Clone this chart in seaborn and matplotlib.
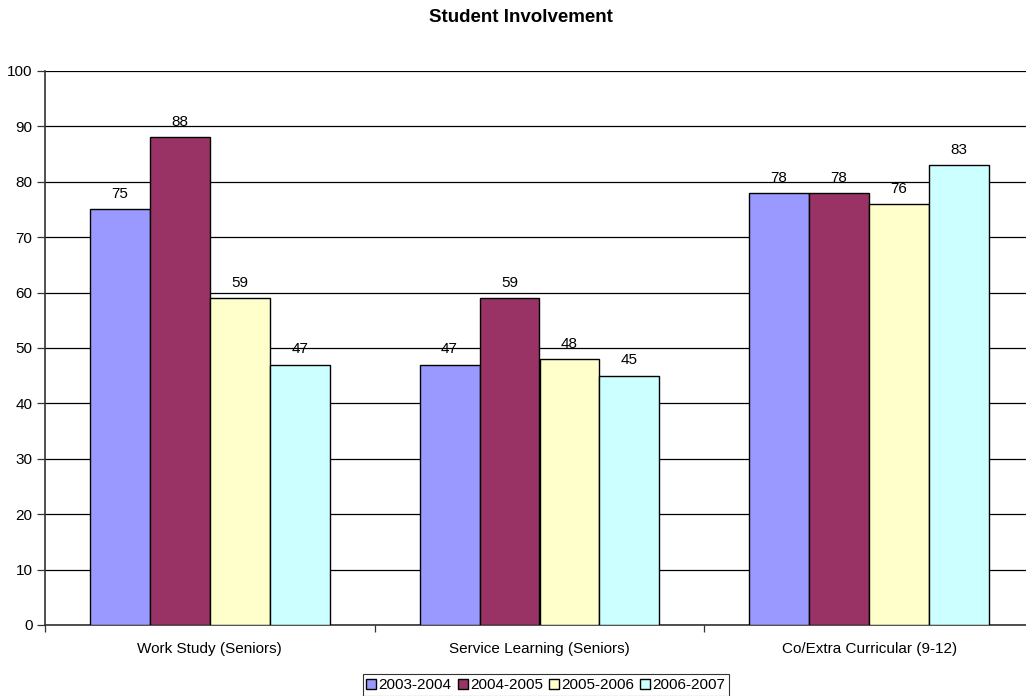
import matplotlib
matplotlib.use("Agg")
import matplotlib.pyplot as plt
import seaborn as sns
import pandas as pd
from matplotlib.ticker import MultipleLocator, FixedLocator

categories = ["Work Study (Seniors)", "Service Learning (Seniors)", "Co/Extra Curricular (9-12)"]
years = ["2003-2004", "2004-2005", "2005-2006", "2006-2007"]
values_2003 = [75, 47, 78]
values_2004 = [88, 59, 78]
values_2005 = [59, 48, 76]
values_2006 = [47, 45, 83]
colors = ["#9999FF", "#993366", "#FFFFCC", "#CCFFFF"]

series = [values_2003, values_2004, values_2005, values_2006]
rows = []
for yr, vals in zip(years, series):
    for cat, v in zip(categories, vals):
        rows.append({"Category": cat, "Year": yr, "Value": v})
df = pd.DataFrame(rows)

sns.set_style("white")
plt.rcParams["font.family"] = ["Liberation Sans", "DejaVu Sans"]
plt.rcParams["text.color"] = "black"
plt.rcParams["xtick.labelcolor"] = "black"
plt.rcParams["ytick.labelcolor"] = "black"

fig = plt.figure(figsize=(10.26, 6.96), dpi=100)
# plot area runs slightly past the right edge of the canvas
ax = fig.add_axes([45 / 1026, 1 - 625 / 696, (1034 - 45) / 1026, (625 - 71) / 696])

sns.barplot(data=df, x="Category", y="Value", hue="Year", order=categories,
            hue_order=years, palette=colors, width=0.728, edgecolor="black",
            linewidth=1.0, saturation=1, ax=ax, legend=True, zorder=3)

for cont in ax.containers:
    ax.bar_label(cont, padding=6, fontsize=11, color="black")

ax.set_ylim(0, 100)
ax.set_xlim(-0.5, 2.5)
ax.yaxis.set_major_locator(MultipleLocator(10))
ax.grid(axis="y", color="black", linewidth=0.9, zorder=0)
ax.set_axisbelow(True)
ax.set_xlabel("")
ax.set_ylabel("")

# category labels centered, tick marks at category boundaries
ax.tick_params(axis="x", which="major", length=0, pad=12, labelsize=11)
ax.xaxis.set_minor_locator(FixedLocator([-0.5, 0.5, 1.5, 2.5]))
ax.tick_params(axis="x", which="minor", length=5, width=0.9, color="#333333", direction="out", bottom=True)
ax.tick_params(axis="y", length=6, width=0.9, color="#333333", direction="out", left=True, labelsize=11, pad=3)

for side in ["left", "bottom"]:
    ax.spines[side].set_visible(True)
    ax.spines[side].set_color("#333333")
    ax.spines[side].set_linewidth(1.2)
ax.spines["right"].set_visible(False)
ax.spines["top"].set_visible(False)

fig.text(521 / 1026, 1 - 18 / 696, "Student Involvement", fontsize=13.5, fontweight="bold",
         ha="center", va="center", color="black")

handles, labels = ax.get_legend_handles_labels()
ax.legend_.remove()
leg = fig.legend(handles, labels, loc="center", bbox_to_anchor=(546 / 1026, 1 - 685 / 696),
                 ncol=4, frameon=True, fontsize=11, handlelength=0.65, handleheight=0.65,
                 handletextpad=0.15, columnspacing=0.4, borderpad=0.25, fancybox=False,
                 edgecolor="black")
leg.get_frame().set_linewidth(0.8)

fig.savefig("out.png", dpi=100, facecolor="white")
